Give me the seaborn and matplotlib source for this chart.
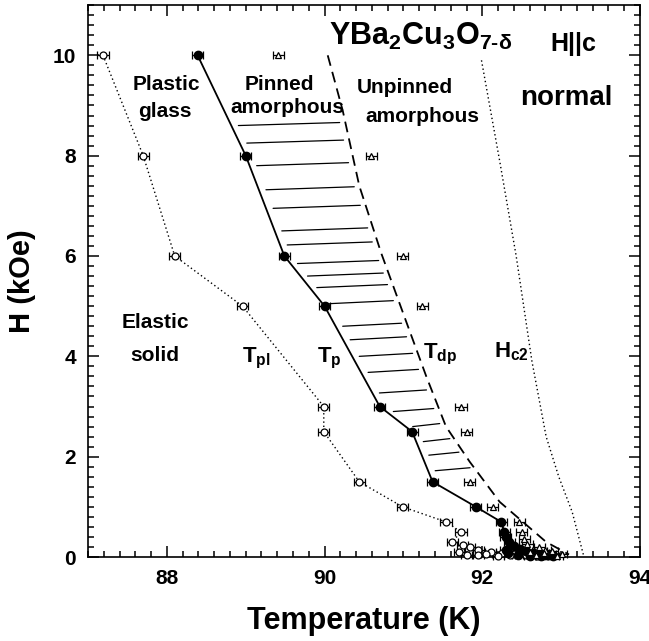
import numpy as np
import matplotlib
matplotlib.use("Agg")
import matplotlib.pyplot as plt
from matplotlib.ticker import MultipleLocator
import seaborn as sns

# T_pl  (open circles, dotted line)
tpl_T = [87.19, 87.70, 88.10, 88.96, 89.99, 89.99, 90.44, 90.99, 91.54, 91.73,
         91.62, 91.75, 91.84, 91.71, 91.95, 92.11, 92.25, 92.40, 92.55, 92.70,
         91.80, 91.95, 92.05, 92.20, 92.35]
tpl_H = [10.0, 8.0, 6.0, 5.0, 3.0, 2.5, 1.5, 1.0, 0.7, 0.5,
         0.3, 0.24, 0.2, 0.1, 0.14, 0.1, 0.08, 0.06, 0.04, 0.03,
         0.05, 0.04, 0.06, 0.03, 0.05]

# T_p  (filled circles, solid line)
tp_T = [88.39, 89.00, 89.49, 90.00, 90.70, 91.11, 91.37, 91.92, 92.24, 92.28,
        92.30, 92.34, 92.40, 92.48, 92.56, 92.64, 92.72, 92.80, 92.90,
        92.30, 92.32, 92.45, 92.60, 92.75, 92.85]
tp_H = [10.0, 8.0, 6.0, 5.0, 3.0, 2.5, 1.5, 1.0, 0.7, 0.5,
        0.4, 0.3, 0.22, 0.16, 0.12, 0.09, 0.06, 0.04, 0.02,
        0.15, 0.08, 0.05, 0.03, 0.02, 0.05]
n_tp_line = 19  # the connected part of T_p

# T_dp  (open triangles)
tdp_T = [89.41, 90.59, 90.99, 91.24, 91.73, 91.80, 91.84, 92.13, 92.47, 92.50,
         92.53, 92.57, 92.72, 92.80, 92.89, 93.01, 92.60, 92.68, 92.78, 92.95]
tdp_H = [10.0, 8.0, 6.0, 5.0, 3.0, 2.5, 1.5, 1.0, 0.7, 0.5,
         0.36, 0.26, 0.2, 0.15, 0.12, 0.06, 0.1, 0.05, 0.08, 0.03]

# dashed T_dp boundary
tdp_line_T = [90.04, 90.23, 90.44, 90.72, 91.08, 91.29, 91.54, 91.84, 92.22, 92.81, 93.10]
tdp_line_H = [10.0, 8.9, 7.4, 6.05, 4.5, 3.6, 2.6, 1.9, 1.1, 0.3, 0.05]

# Hc2 (dotted)
hc2_T = [91.99, 92.22, 92.43, 92.63, 92.81, 92.97, 93.14, 93.29]
hc2_H = [9.9, 7.9, 6.0, 3.9, 2.4, 1.6, 0.9, 0.0]

# hatch levels in the pinned amorphous region
hatch_H = [8.6, 8.25, 7.8, 7.32, 6.95, 6.5, 6.22, 5.85, 5.6, 5.37, 5.05,
           4.6, 4.33, 4.0, 3.68, 3.27, 2.9, 2.6, 2.3, 2.03, 1.72]

T_err = 0.07


def main():
    sns.set_style("ticks")
    plt.rcParams['font.family'] = ['Liberation Sans', 'DejaVu Sans']
    plt.rcParams['font.weight'] = 'bold'
    plt.rcParams['text.color'] = 'black'
    plt.rcParams['axes.labelcolor'] = 'black'
    plt.rcParams['mathtext.fontset'] = 'custom'
    plt.rcParams['mathtext.rm'] = 'Liberation Sans:bold'
    plt.rcParams['mathtext.it'] = 'Liberation Sans:bold'
    plt.rcParams['mathtext.bf'] = 'Liberation Sans:bold'
    plt.rcParams['mathtext.default'] = 'rm'

    fig = plt.figure(figsize=(6.49, 6.41), dpi=100)
    ax = fig.add_axes([0.1356, 0.131, 0.8505, 0.861])

    # boundary lines
    sns.lineplot(x=tp_T[:n_tp_line], y=tp_H[:n_tp_line], sort=False,
                 estimator=None, color='black', lw=1.3, ax=ax)
    sns.lineplot(x=tpl_T[:20], y=tpl_H[:20], sort=False, estimator=None,
                 color='black', lw=1.0, linestyle=(0, (1, 2)), ax=ax)
    sns.lineplot(x=tdp_line_T, y=tdp_line_H, sort=False, estimator=None,
                 color='black', lw=1.3, linestyle=(0, (6, 3.5)), ax=ax)
    sns.lineplot(x=hc2_T, y=hc2_H, sort=False, estimator=None, color='black',
                 lw=1.0, linestyle=(0, (1, 2)), ax=ax)

    # hatching between T_p and T_dp
    left = np.interp(hatch_H, tp_H[n_tp_line - 1::-1], tp_T[n_tp_line - 1::-1]) + 0.09
    right = np.interp(hatch_H, tdp_line_H[::-1], tdp_line_T[::-1]) - 0.08
    for h, t0, t1 in zip(hatch_H, left, right):
        ax.plot([t0, t1], [h, h + 0.06], color='black', lw=0.9)

    # data points with error bars
    eb = dict(xerr=T_err, ecolor='black', elinewidth=0.9, capsize=3,
              capthick=0.9, zorder=4, clip_on=False)
    ax.errorbar(tpl_T, tpl_H, fmt='o', ms=5, mfc='white', mec='black',
                mew=0.9, **eb)
    ax.errorbar(tp_T, tp_H, fmt='o', ms=6, mfc='black', mec='black', **eb)
    ax.errorbar(tdp_T, tdp_H, fmt='^', ms=5, mfc='white', mec='black',
                mew=0.9, **eb)

    ax.set_xlim(87, 94)
    ax.set_ylim(0, 11)
    ax.set_xticks([88, 90, 92, 94])
    ax.set_yticks([0, 2, 4, 6, 8, 10])
    ax.xaxis.set_minor_locator(MultipleLocator(0.2))
    ax.yaxis.set_minor_locator(MultipleLocator(0.2))
    ax.tick_params(which='both', direction='in', top=True, right=True,
                   width=1.1, colors='black', labelsize=15)
    ax.tick_params(which='major', length=8, pad=8.5)
    ax.tick_params(which='minor', length=4.5)
    for lab in ax.get_xticklabels() + ax.get_yticklabels():
        lab.set_fontweight('bold')
    for sp in ax.spines.values():
        sp.set_linewidth(1.2)
        sp.set_color('black')

    ax.set_xlabel('Temperature (K)', fontsize=22, fontweight='bold', labelpad=13)
    ax.set_ylabel('H (kOe)', fontsize=21, fontweight='bold', labelpad=12)

    # annotations
    ax.text(90.05, 10.2, r'YBa$_2$Cu$_3$O$_{7\text{-}\delta}$', fontsize=22,
            fontweight='bold', ha='left', va='baseline')
    ax.text(92.87, 10.08, 'H||c', fontsize=18, fontweight='bold',
            ha='left', va='baseline')
    kw = dict(fontsize=15, fontweight='bold', ha='center', va='center')
    ax.text(88.0, 9.42, 'Plastic', **kw)
    ax.text(87.97, 8.88, 'glass', **kw)
    ax.text(89.43, 9.42, 'Pinned', **kw)
    ax.text(89.53, 8.95, 'amorphous', **kw)
    ax.text(91.02, 9.36, 'Unpinned', **kw)
    ax.text(91.24, 8.78, 'amorphous', **kw)
    ax.text(93.06, 9.14, 'normal', fontsize=20, fontweight='bold',
            ha='center', va='center')
    ax.text(87.85, 4.67, 'Elastic', **kw)
    ax.text(87.85, 4.02, 'solid', **kw)
    kb = dict(fontsize=16, fontweight='bold', ha='center', va='baseline')
    ax.text(89.14, 3.88, r'T$_{\mathrm{pl}}$', **kb)
    ax.text(90.06, 3.88, r'T$_{\mathrm{p}}$', **kb)
    ax.text(91.46, 3.96, r'T$_{\mathrm{dp}}$', **kb)
    ax.text(92.37, 3.98, r'H$_{\mathrm{c2}}$', **kb)

    fig.savefig('out.png', dpi=100)


if __name__ == "__main__":
    main()
